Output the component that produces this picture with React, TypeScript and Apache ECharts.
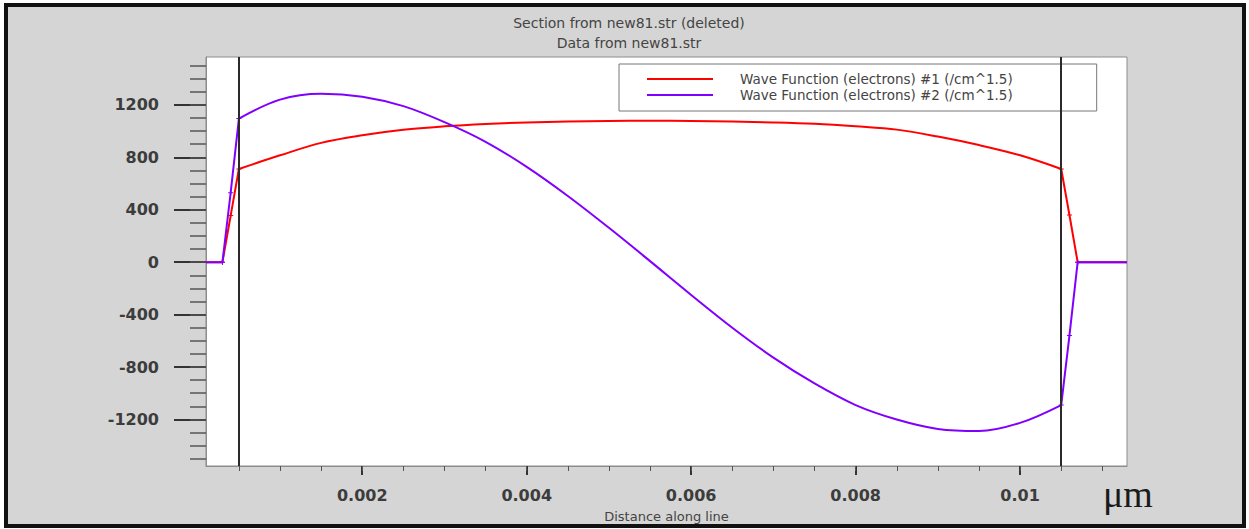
import React, { useEffect, useRef } from "react";
import * as echarts from "echarts";

const seriesNames = [
  "Wave Function (electrons) #1 (/cm^1.5)",
  "Wave Function (electrons) #2 (/cm^1.5)",
];

// Mesh positions inside the quantum well (µm)
const wellX = [
  0.0005, 0.001, 0.0015, 0.002, 0.0025, 0.003, 0.0035, 0.004, 0.0045, 0.005, 0.0055,
  0.006, 0.0065, 0.007, 0.0075, 0.008, 0.0085, 0.009, 0.0095, 0.01, 0.0105,
];
const psi1Well = [
  711, 815, 910, 968, 1010, 1036, 1054, 1066, 1073, 1077, 1078,
  1077, 1073, 1066, 1055, 1036, 1011, 958, 893, 815, 711,
];
const psi2Well = [
  1095, 1240, 1285, 1262, 1190, 1068, 918, 727, 505, 262, 8,
  -250, -500, -728, -925, -1090, -1200, -1272, -1288, -1226, -1090,
];

// Barrier mesh on both sides of the well
const leftBarrierX = [0.0001, 0.0003, 0.0004, 0.0005];
const psi1Left = [0, 0, 355, 711];
const psi2Left = [0, 0, 530, 1095];
const rightBarrierX = [0.0105, 0.0106, 0.0107, 0.0113];
const psi1Right = [711, 360, 0, 0];
const psi2Right = [-1090, -560, 0, 0];

// Material interfaces
const interfaces = [0.0005, 0.0105];

// Axis ranges and ticks
const xRange = [0.0001, 0.0113];
const yRange = [-1555, 1565];
const xLabelTicks = [0.002, 0.004, 0.006, 0.008, 0.01];
const xMinorTicks = [
  0.0005, 0.001, 0.0015, 0.002, 0.0025, 0.003, 0.0035, 0.004, 0.0045, 0.005, 0.0055,
  0.006, 0.0065, 0.007, 0.0075, 0.008, 0.0085, 0.009, 0.0095, 0.01, 0.0105, 0.011,
];
const yLabelTicks = [-1200, -800, -400, 0, 400, 800, 1200];
const yMinorTicks = [
  -1500, -1400, -1300, -1200, -1100, -1000, -900, -800, -700, -600, -500, -400, -300, -200, -100,
  0, 100, 200, 300, 400, 500, 600, 700, 800, 900, 1000, 1100, 1200, 1300, 1400, 1500,
];

const titles = ["Section from new81.str (deleted)", "Data from new81.str"];
const xAxisName = "Distance along line";
const unitText = "μm";

const RED = "#ff0000";
const PURPLE = "#8000ff";
const SANS = "DejaVu Sans";
// small cross drawn at barrier mesh nodes
const NODE_MARK = "path://M4,0H6V4H10V6H6V10H4V6H0V4H4Z";

const pairs = (xs: number[], ys: number[]) => xs.map((x, i) => [x, ys[i]]);

// barrier points with node marks, except at the ends of the plotted domain
const barrierPoints = (xs: number[], ys: number[]) =>
  xs.map((x, i) =>
    x === xRange[0] || x === xRange[1]
      ? { value: [x, ys[i]], symbol: "none" }
      : { value: [x, ys[i]] }
  );

const fmt = (v: number) => String(Number(v.toPrecision(6)));

export default function App() {
  const ref = useRef<HTMLDivElement>(null);

  useEffect(() => {
    if (!ref.current) return;
    const chart = echarts.init(ref.current, undefined, { renderer: "svg" });

    const lineSeries = (
      name: string,
      color: string,
      data: unknown[],
      smooth: boolean | number,
      z: number,
      extra: Record<string, unknown> = {}
    ) => ({
      type: "line",
      name,
      data,
      smooth,
      symbol: "none",
      z,
      lineStyle: { color, width: 2 },
      itemStyle: { color },
      ...extra,
    });

    const nodeMarks = { symbol: NODE_MARK, symbolSize: 5, showSymbol: true };

    chart.setOption({
      animation: false,
      backgroundColor: "transparent",
      graphic: [
        {
          type: "rect",
          z: -10,
          shape: { x: 6, y: 5, width: 1238, height: 521 },
          style: { fill: "#d5d5d5", stroke: "#111", lineWidth: 4 },
        },
        {
          type: "text",
          x: 629,
          y: 23,
          style: {
            text: titles[0],
            font: `14px "${SANS}"`,
            fill: "#444",
            align: "center",
            verticalAlign: "middle",
          },
        },
        {
          type: "text",
          x: 629,
          y: 43,
          style: {
            text: titles[1],
            font: `14px "${SANS}"`,
            fill: "#444",
            align: "center",
            verticalAlign: "middle",
          },
        },
        {
          type: "text",
          x: 1103,
          y: 494,
          style: {
            text: unitText,
            font: `38px "Liberation Serif"`,
            fill: "#1a1a1a",
            align: "left",
            verticalAlign: "middle",
          },
        },
      ],
      legend: {
        orient: "vertical",
        left: 619,
        top: 64,
        padding: [7, 84, 8, 28],
        itemGap: 0,
        itemWidth: 66,
        itemHeight: 2,
        icon: "rect",
        backgroundColor: "#fff",
        borderColor: "#777",
        borderWidth: 1,
        data: seriesNames,
        textStyle: {
          fontFamily: SANS,
          fontSize: 13.5,
          lineHeight: 16,
          color: "#444",
          padding: [0, 0, 0, 22],
        },
      },
      grid: {
        left: 206,
        top: 57,
        right: 122,
        bottom: 63,
        show: true,
        backgroundColor: "#fff",
        borderColor: "#8c8c8c",
        borderWidth: 1,
      },
      xAxis: [
        {
          type: "value",
          position: "bottom",
          min: xRange[0],
          max: xRange[1],
          name: xAxisName,
          nameLocation: "middle",
          nameGap: 44,
          nameTextStyle: { fontFamily: SANS, fontSize: 13, color: "#444" },
          splitLine: { show: false },
          axisLine: { show: true, onZero: false, lineStyle: { color: "#8c8c8c", width: 1 } },
          axisTick: {
            show: true,
            length: 9,
            customValues: xLabelTicks,
            lineStyle: { color: "#333", width: 2 },
          },
          axisLabel: {
            customValues: xLabelTicks,
            formatter: (v: number) => fmt(v),
            margin: 21,
            fontFamily: SANS,
            fontWeight: "bold",
            fontSize: 16,
            color: "#3c3c3c",
          },
        },
        {
          type: "value",
          position: "bottom",
          min: xRange[0],
          max: xRange[1],
          splitLine: { show: false },
          axisLine: { show: false, onZero: false },
          axisLabel: { show: false },
          axisTick: {
            show: true,
            length: 5,
            customValues: xMinorTicks,
            lineStyle: { color: "#555", width: 1 },
          },
        },
      ],
      yAxis: [
        {
          type: "value",
          position: "left",
          min: yRange[0],
          max: yRange[1],
          splitLine: { show: false },
          axisLine: { show: true, onZero: false, lineStyle: { color: "#8c8c8c", width: 1 } },
          axisTick: {
            show: true,
            length: 32,
            customValues: yLabelTicks,
            lineStyle: { color: "#333", width: 2 },
          },
          axisLabel: {
            customValues: yLabelTicks,
            formatter: (v: number) => fmt(v),
            margin: 47,
            padding: [9, 0, 0, 0],
            fontFamily: SANS,
            fontWeight: "bold",
            fontSize: 16,
            color: "#3c3c3c",
          },
        },
        {
          type: "value",
          position: "left",
          min: yRange[0],
          max: yRange[1],
          splitLine: { show: false },
          axisLine: { show: false, onZero: false },
          axisLabel: { show: false },
          axisTick: {
            show: true,
            length: 16,
            customValues: yMinorTicks,
            lineStyle: { color: "#555", width: 1.5 },
          },
        },
      ],
      series: [
        lineSeries(seriesNames[0], RED, pairs(wellX, psi1Well), 0.35, 3, {
          markLine: {
            silent: true,
            precision: 6,
            symbol: ["none", "none"],
            label: { show: false },
            lineStyle: { color: "#2a2a2a", width: 2, type: "solid" },
            data: interfaces.map((x) => ({ xAxis: x })),
          },
        }),
        lineSeries(seriesNames[0], RED, barrierPoints(leftBarrierX, psi1Left), false, 3, nodeMarks),
        lineSeries(seriesNames[0], RED, barrierPoints(rightBarrierX, psi1Right), false, 3, nodeMarks),
        lineSeries(seriesNames[1], PURPLE, pairs(wellX, psi2Well), 0.35, 4),
        lineSeries(seriesNames[1], PURPLE, barrierPoints(leftBarrierX, psi2Left), false, 4, nodeMarks),
        lineSeries(seriesNames[1], PURPLE, barrierPoints(rightBarrierX, psi2Right), false, 4, nodeMarks),
      ],
    });

    return () => chart.dispose();
  }, []);

  return (
    <div
      style={{
        position: "fixed",
        left: 0,
        top: 0,
        width: 1249,
        height: 529,
        background: "#fff",
      }}
    >
      <div ref={ref} style={{ width: 1249, height: 529 }} />
    </div>
  );
}
